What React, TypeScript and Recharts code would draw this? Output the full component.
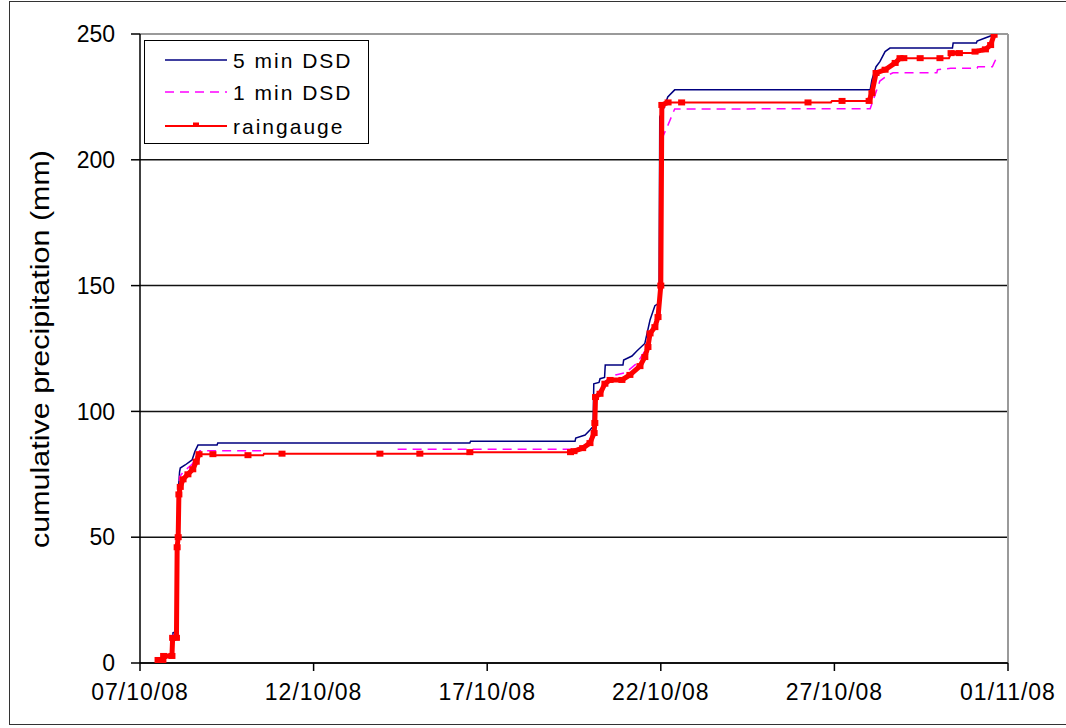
import React from 'react';
import { LineChart, Line, XAxis, YAxis, CartesianGrid, ReferenceLine, Legend } from 'recharts';

// x = days since 07/10/08, v = cumulative precipitation (mm)
const dayTicks = [0, 5, 10, 15, 20, 25];
const dayTickLabels = ['07/10/08', '12/10/08', '17/10/08', '22/10/08', '27/10/08', '01/11/08'];
const valueTicks = [0, 50, 100, 150, 200, 250];

type P = { t: number; v: number | null; m?: number; k?: number };

const dsd5min: P[] = [
  { t: 0.55, v: 0 }, { t: 0.68, v: 0.5 }, { t: 0.7, v: 3 }, { t: 0.93, v: 3.5 }, { t: 0.95, v: 12 },
  { t: 1.05, v: 12.5 }, { t: 1.08, v: 50 }, { t: 1.11, v: 70 }, { t: 1.14, v: 76 }, { t: 1.16, v: 77.5 },
  { t: 1.3, v: 78.7 }, { t: 1.5, v: 80.7 }, { t: 1.58, v: 84 }, { t: 1.67, v: 86.6 }, { t: 2.22, v: 86.6 },
  { t: 2.24, v: 87.4 }, { t: 9.5, v: 87.4 }, { t: 9.52, v: 88.1 }, { t: 12.53, v: 88.1 }, { t: 12.55, v: 89.4 },
  { t: 12.82, v: 90.6 }, { t: 12.96, v: 92.6 }, { t: 13.05, v: 94 }, { t: 13.07, v: 111 }, { t: 13.22, v: 111.5 },
  { t: 13.25, v: 113 }, { t: 13.38, v: 113.5 }, { t: 13.4, v: 118.4 }, { t: 13.91, v: 118.4 }, { t: 13.93, v: 120.4 },
  { t: 14.17, v: 122 }, { t: 14.31, v: 124 }, { t: 14.54, v: 127 }, { t: 14.69, v: 136.3 }, { t: 14.83, v: 142 },
  { t: 14.95, v: 143 }, { t: 14.97, v: 217 }, { t: 15.1, v: 221 }, { t: 15.2, v: 225 }, { t: 15.4, v: 227.8 },
  { t: 21.03, v: 227.8 }, { t: 21.08, v: 231.7 }, { t: 21.2, v: 237 }, { t: 21.31, v: 239 }, { t: 21.46, v: 243 },
  { t: 21.6, v: 244.4 }, { t: 23.4, v: 244.4 }, { t: 23.42, v: 246.4 }, { t: 24.09, v: 246.4 }, { t: 24.11, v: 247.2 },
  { t: 24.34, v: 248.4 }, { t: 24.57, v: 249.6 }, { t: 24.68, v: 251.6 },
];

const dsd1min: P[] = [
  { t: 0.55, v: 0 }, { t: 0.68, v: 0.4 }, { t: 0.7, v: 2.5 }, { t: 0.93, v: 3 }, { t: 0.95, v: 11 },
  { t: 1.05, v: 11.5 }, { t: 1.08, v: 48 }, { t: 1.11, v: 68 }, { t: 1.14, v: 74 }, { t: 1.25, v: 76 },
  { t: 1.5, v: 79 }, { t: 1.62, v: 82 }, { t: 1.72, v: 84.4 }, { t: 3.6, v: 84.4 }, { t: 5.5, v: null },
  { t: 7.42, v: 85 }, { t: 12.53, v: 85 }, { t: 12.82, v: 86.5 }, { t: 12.96, v: 89 }, { t: 13.1, v: 92 },
  { t: 13.12, v: 106 }, { t: 13.25, v: 108.5 }, { t: 13.4, v: 112 }, { t: 13.7, v: 114.5 }, { t: 14.0, v: 115.5 },
  { t: 14.3, v: 119 }, { t: 14.5, v: 123 }, { t: 14.7, v: 131 }, { t: 14.85, v: 134 }, { t: 14.98, v: 138 },
  { t: 15.02, v: 208 }, { t: 15.2, v: 213.6 }, { t: 15.4, v: 220.2 }, { t: 21.03, v: 220.3 }, { t: 21.15, v: 225 },
  { t: 21.31, v: 231.3 }, { t: 21.54, v: 233.6 }, { t: 21.69, v: 234.6 }, { t: 22.95, v: 234.6 }, { t: 22.97, v: 235.8 },
  { t: 23.35, v: 236.4 }, { t: 24.11, v: 236.4 }, { t: 24.13, v: 237 }, { t: 24.55, v: 237 }, { t: 24.6, v: 238.5 },
  { t: 24.68, v: 240.9 },
];

// m = marker drawn, k = part of a dense run of gauge records
const raingauge: P[] = [
  { t: 0.52, v: 1.2, m: 1, k: 1 }, { t: 0.66, v: 1.2, m: 1, k: 1 }, { t: 0.68, v: 2.8, m: 1, k: 1 },
  { t: 0.92, v: 2.8, m: 1, k: 1 }, { t: 0.94, v: 10, m: 1, k: 1 }, { t: 1.05, v: 10, m: 1, k: 1 },
  { t: 1.07, v: 46, m: 1, k: 1 }, { t: 1.1, v: 50, m: 1, k: 1 }, { t: 1.12, v: 67, m: 1, k: 1 },
  { t: 1.16, v: 70, m: 1, k: 1 }, { t: 1.24, v: 73, m: 1, k: 1 }, { t: 1.38, v: 75, m: 1, k: 1 },
  { t: 1.52, v: 77, m: 1, k: 1 }, { t: 1.62, v: 80, m: 1, k: 1 }, { t: 1.7, v: 83, m: 1, k: 1 },
  { t: 2.1, v: 83, m: 1 }, { t: 2.12, v: 82.6 }, { t: 3.11, v: 82.6, m: 1 }, { t: 3.55, v: 82.6 },
  { t: 3.57, v: 83.2 }, { t: 4.09, v: 83.2, m: 1 }, { t: 6.91, v: 83.2, m: 1 }, { t: 8.06, v: 83.2, m: 1 },
  { t: 9.45, v: 83.2 }, { t: 9.5, v: 83.8, m: 1 }, { t: 12.4, v: 83.8, m: 1, k: 1 },
  { t: 12.5, v: 84.2, m: 1, k: 1 }, { t: 12.75, v: 85.4, m: 1, k: 1 }, { t: 12.96, v: 87.4, m: 1, k: 1 },
  { t: 13.08, v: 91.4, m: 1, k: 1 }, { t: 13.1, v: 95.4, m: 1, k: 1 }, { t: 13.12, v: 105.7, m: 1, k: 1 },
  { t: 13.25, v: 107, m: 1, k: 1 }, { t: 13.39, v: 111, m: 1, k: 1 }, { t: 13.54, v: 112.5, m: 1, k: 1 },
  { t: 13.88, v: 112.5, m: 1, k: 1 }, { t: 14.11, v: 114.5, m: 1, k: 1 }, { t: 14.4, v: 118, m: 1, k: 1 },
  { t: 14.54, v: 121.6, m: 1, k: 1 }, { t: 14.63, v: 125.6, m: 1, k: 1 }, { t: 14.69, v: 131, m: 1, k: 1 },
  { t: 14.83, v: 133.5, m: 1, k: 1 }, { t: 14.92, v: 137.5, m: 1, k: 1 }, { t: 15.0, v: 150, m: 1, k: 1 },
  { t: 15.03, v: 221.8, m: 1, k: 1 }, { t: 15.21, v: 222.8, m: 1, k: 1 }, { t: 15.6, v: 222.8, m: 1 },
  { t: 19.24, v: 222.8, m: 1 }, { t: 19.9, v: 222.8 }, { t: 19.93, v: 223.4 }, { t: 20.22, v: 223.4, m: 1 },
  { t: 21.0, v: 223.4, m: 1, k: 1 }, { t: 21.08, v: 226.5, m: 1, k: 1 }, { t: 21.2, v: 234.5, m: 1, k: 1 },
  { t: 21.46, v: 235.8, m: 1, k: 1 }, { t: 21.75, v: 238.5, m: 1, k: 1 }, { t: 21.89, v: 240.4, m: 1, k: 1 },
  { t: 22.0, v: 240.4, m: 1 }, { t: 22.47, v: 240.4, m: 1 }, { t: 23.04, v: 240.4, m: 1 }, { t: 23.3, v: 240.4 },
  { t: 23.36, v: 242.4, m: 1, k: 1 }, { t: 23.6, v: 242.4, m: 1, k: 1 }, { t: 24.0, v: 242.4 },
  { t: 24.05, v: 243, m: 1, k: 1 }, { t: 24.35, v: 243.9, m: 1, k: 1 }, { t: 24.5, v: 245.6, m: 1, k: 1 },
  { t: 24.6, v: 249.7, m: 1, k: 1 }, { t: 24.66, v: 251.6, m: 1, k: 1 },
];

const raingaugeDense: P[] = raingauge.map((p) => ({ t: p.t, v: p.k ? p.v : null }));

const FONT = '"Liberation Sans", Arial, sans-serif';

const legendItems = [
  { name: '5 min DSD', color: '#000080', dash: undefined as string | undefined, marker: false },
  { name: '1 min DSD', color: '#FF00FF', dash: '9 6', marker: false },
  { name: 'raingauge', color: '#FF0000', dash: undefined as string | undefined, marker: true },
];

const renderLegend = () => (
  <div style={{ width: 225, height: 104, border: '1.5px solid #000', background: '#fff', boxSizing: 'border-box' }}>
    <svg width={222} height={101} style={{ display: 'block' }}>
      {legendItems.map((it, i) => {
        const y = [19, 51, 85][i];
        return (
          <g key={it.name}>
            <line x1={20} x2={82} y1={y} y2={y} stroke={it.color} strokeWidth={it.marker ? 2 : 1.5} strokeDasharray={it.dash} />
            {it.marker && <rect x={48} y={y - 3.5} width={6} height={4} fill={it.color} />}
            <text x={88} y={y} dominantBaseline="central" fontSize={21} letterSpacing={2} fontFamily={FONT} fill="#000">
              {it.name}
            </text>
          </g>
        );
      })}
    </svg>
  </div>
);

const renderYLabel = () => (
  <text
    x={40}
    y={349}
    transform="rotate(-90 40 349)"
    textAnchor="middle"
    dominantBaseline="central"
    fontSize={25}
    fontFamily={FONT}
    fill="#000"
    textLength={398}
    lengthAdjust="spacingAndGlyphs"
  >
    cumulative precipitation (mm)
  </text>
);

const renderRainDot = (props: any) => {
  const { cx, cy, payload, index } = props;
  if (!payload || !payload.m || cx == null || cy == null) return <g key={`rd${index}`} />;
  return <rect key={`rd${index}`} x={cx - 3.5} y={cy - 3} width={7} height={6} fill="#FF0000" />;
};

export default function App() {
  return (
    <div style={{ position: 'absolute', left: 0, top: 0, width: 1066, height: 728, overflow: 'hidden', background: '#fff' }}>
      <div
        style={{
          position: 'absolute',
          left: 9,
          top: 1,
          width: 1100,
          height: 724,
          border: '1.5px solid #333',
          boxSizing: 'border-box',
        }}
      />
      <div style={{ position: 'absolute', left: 0, top: 0 }}>
        <LineChart width={1066} height={728} margin={{ top: 34, right: 58, bottom: 0, left: 0 }}>
          <CartesianGrid vertical={false} stroke="#111" strokeWidth={1.5} />
          <XAxis
            dataKey="t"
            type="number"
            domain={[0, 25]}
            ticks={dayTicks}
            allowDataOverflow
            height={65}
            tickSize={8}
            tickMargin={13}
            stroke="#000"
            strokeWidth={1.5}
            tickFormatter={(v: number) => dayTickLabels[dayTicks.indexOf(v)] ?? ''}
            tick={{ fontSize: 23, fill: '#000', fontFamily: FONT, letterSpacing: 1 }}
          />
          <YAxis
            type="number"
            domain={[0, 250]}
            ticks={valueTicks}
            allowDataOverflow
            width={140}
            tickSize={9}
            tickMargin={16}
            stroke="#000"
            strokeWidth={1.5}
            tick={{ fontSize: 23, fill: '#000', fontFamily: FONT }}
            label={renderYLabel}
          />
          <ReferenceLine y={250} stroke="#9a9a9a" strokeWidth={2} />
          <ReferenceLine x={25} stroke="#9a9a9a" strokeWidth={2} />
          <Legend
            layout="vertical"
            align="center"
            verticalAlign="middle"
            content={renderLegend}
            wrapperStyle={{ position: 'absolute', left: 144, top: 40, width: 225, height: 104 }}
          />
          <Line
            data={dsd5min}
            dataKey="v"
            name="5 min DSD"
            type="linear"
            stroke="#000080"
            strokeWidth={1.5}
            dot={false}
            activeDot={false}
            isAnimationActive={false}
          />
          <Line
            data={dsd1min}
            dataKey="v"
            name="1 min DSD"
            type="linear"
            stroke="#FF00FF"
            strokeWidth={1.5}
            strokeDasharray="9 6"
            dot={false}
            activeDot={false}
            connectNulls={false}
            isAnimationActive={false}
          />
          <Line
            data={raingauge}
            dataKey="v"
            name="raingauge"
            type="linear"
            stroke="#FF0000"
            strokeWidth={2}
            dot={renderRainDot}
            activeDot={false}
            isAnimationActive={false}
          />
          <Line
            data={raingaugeDense}
            dataKey="v"
            name="raingauge records"
            legendType="none"
            type="linear"
            stroke="#FF0000"
            strokeWidth={5}
            dot={false}
            activeDot={false}
            connectNulls={false}
            isAnimationActive={false}
          />
        </LineChart>
      </div>
    </div>
  );
}
